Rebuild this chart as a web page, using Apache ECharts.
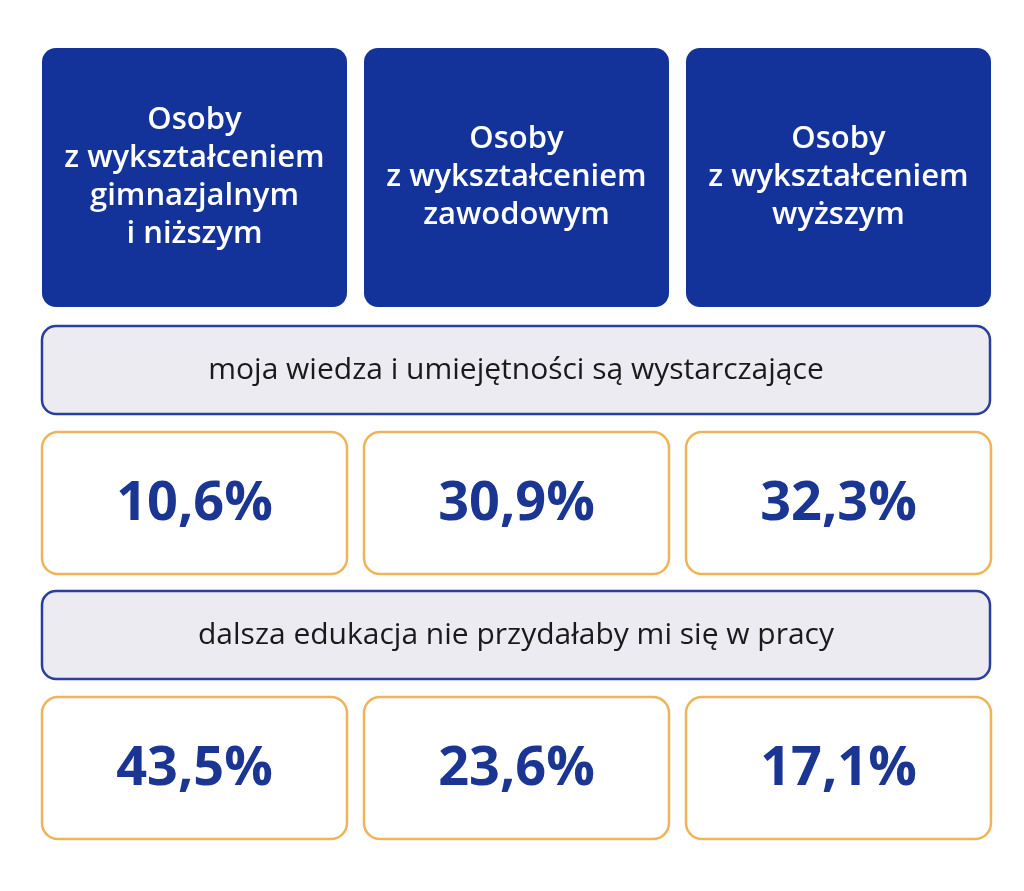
<!DOCTYPE html>
<html><head><meta charset="utf-8">
<script src="https://cdn.jsdelivr.net/npm/echarts@6/dist/echarts.min.js"></script>
<style>html,body{margin:0;padding:0;background:#fff}#c{width:1024px;height:891px}</style>
</head><body><div id="c"></div>
<script>
const categories = ["Osoby\nz wykształceniem\ngimnazjalnym\ni niższym", "Osoby\nz wykształceniem\nzawodowym", "Osoby\nz wykształceniem\nwyższym"];
const statements = ["moja wiedza i umiejętności są wystarczające", "dalsza edukacja nie przydałaby mi się w pracy"];
const valuesKnowledge = [10.6, 30.9, 32.3];
const valuesNoEducation = [43.5, 23.6, 17.1];
const rows = [valuesKnowledge, valuesNoEducation];

const colX = [42, 364, 686], colW = 305;
const font = '"Open Sans", "Noto Sans", sans-serif';
const g = [];
categories.forEach((c, i) => {
  g.push({type:'rect', shape:{x:colX[i], y:48, width:colW, height:259, r:14}, style:{fill:'#13339b'}});
  g.push({type:'text', x:colX[i]+colW/2, y:177, style:{text:c, fill:'#fff', font:'600 31px '+font, align:'center', verticalAlign:'middle', lineHeight:38}});
});
const bandY = [326, 591], rowY = [432, 697];
statements.forEach((s, r) => {
  g.push({type:'rect', shape:{x:42, y:bandY[r], width:948, height:88, r:14}, style:{fill:'#ebebf1', stroke:'#2a3f9c', lineWidth:2.5}});
  g.push({type:'text', x:516, y:bandY[r]+44, style:{text:s, fill:'#1a1a1a', font:'400 30px '+font, align:'center', verticalAlign:'middle'}});
  rows[r].forEach((v, i) => {
    g.push({type:'rect', shape:{x:colX[i], y:rowY[r], width:colW, height:142, r:16}, style:{fill:'#fff', stroke:'#efb45a', lineWidth:2.5}});
    g.push({type:'text', x:colX[i]+colW/2, y:rowY[r]+73, style:{text:v.toFixed(1).replace('.', ',')+'%', fill:'#1b3592', font:'700 54px '+font, align:'center', verticalAlign:'middle'}});
  });
});
const chart = echarts.init(document.getElementById('c'));
chart.setOption({animation:false, graphic:g});
</script></body></html>
